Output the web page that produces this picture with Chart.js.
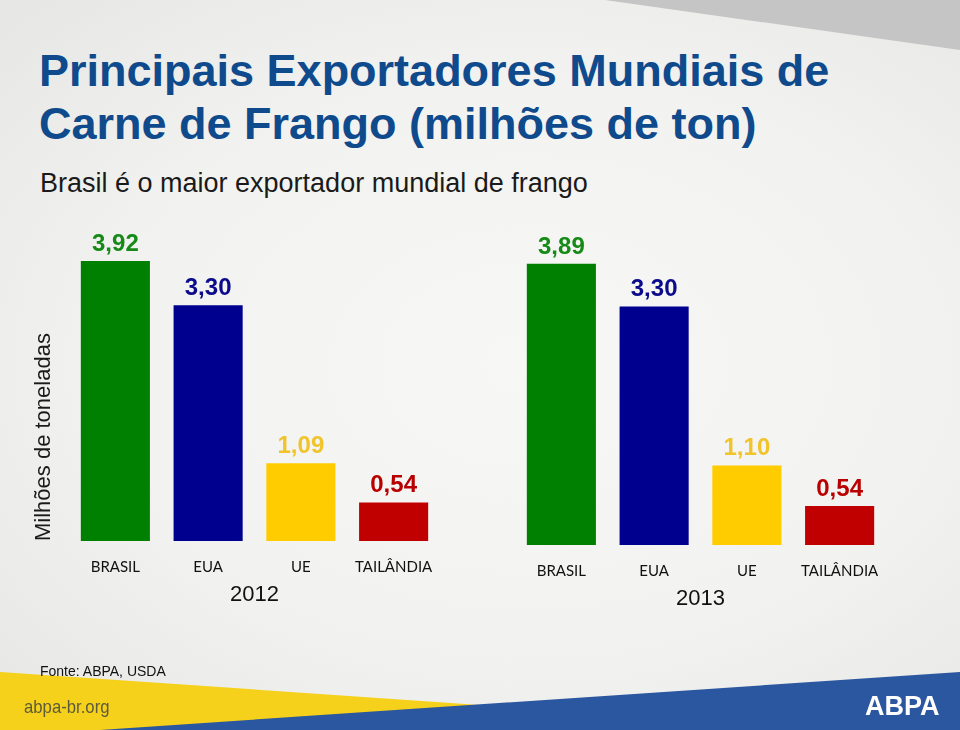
<!DOCTYPE html>
<html>
<head>
<meta charset="utf-8">
<script src="https://cdn.jsdelivr.net/npm/chart.js@4/dist/chart.umd.min.js"></script>
<style>
  html, body { margin:0; padding:0; }
  body { width:960px; height:730px; position:relative; overflow:hidden;
    background: radial-gradient(ellipse at 55% 50%, #f7f7f5 0%, #f2f2f0 55%, #e6e6e4 100%);
    font-family: "Liberation Sans", Arial, sans-serif; }
  .abs { position:absolute; white-space:nowrap; line-height:1.15; }
  #t1, #t2 { left:39px; font-weight:bold; font-size:45px; color:#0f4a8c; }
  #t1 { top:45px; }
  #t2 { top:98px; }
  #sub { left:40px; top:168px; font-size:27px; color:#1a1a1a; }
  #fonte { left:40px; top:663px; font-size:14px; color:#111; }
  #site { left:24px; top:696px; font-size:19px; color:#5e5b3a; transform:scaleX(0.88); transform-origin:left top; }
  #logo { left:865px; top:691px; font-weight:bold; font-size:27px; color:#ffffff; }
  canvas { position:absolute; left:0; top:0; }
  svg { position:absolute; left:0; top:0; }
</style>
</head>
<body>
<svg width="960" height="730">
  <polygon points="605,0 960,0 960,50" fill="#c5c5c5"/>
  <polygon points="0,672 480,705 480,730 0,730" fill="#f5d11b"/>
  <polygon points="960,672 960,730 100,730" fill="#2a57a0"/>
</svg>
<div class="abs" id="t1">Principais Exportadores Mundiais de</div>
<div class="abs" id="t2">Carne de Frango (milhões de ton)</div>
<div class="abs" id="sub">Brasil é o maior exportador mundial de frango</div>
<canvas id="c1" width="960" height="730"></canvas>
<canvas id="c2" width="960" height="730"></canvas>
<div class="abs" id="fonte">Fonte: ABPA, USDA</div>
<div class="abs" id="site">abpa-br.org</div>
<div class="abs" id="logo">ABPA</div>
<script>
const categories = ['BRASIL', 'EUA', 'UE', 'TAILÂNDIA'];
const years = ['2012', '2013'];
const values2012 = [3.92, 3.30, 1.09, 0.54];
const values2013 = [3.89, 3.30, 1.10, 0.54];
const barColors = ['#008000', '#00008f', '#ffcc00', '#c00000'];
const labelColors = ['#168a16', '#0b0b8c', '#f0c42a', '#b80000'];
const axisTitle = 'Milhões de toneladas';

const valueLabels = {
  id: 'valueLabels',
  afterDatasetsDraw(chart) {
    const ctx = chart.ctx;
    const meta = chart.getDatasetMeta(0);
    const data = chart.data.datasets[0].data;
    ctx.save();
    ctx.font = 'bold 24px "Liberation Sans", Arial, sans-serif';
    ctx.textAlign = 'center';
    ctx.textBaseline = 'alphabetic';
    meta.data.forEach((bar, i) => {
      ctx.fillStyle = labelColors[i];
      ctx.fillText(data[i].toFixed(2).replace('.', ','), bar.x, bar.y - 10);
    });
    ctx.restore();
  }
};

function makeChart(id, year, values, opts) {
  return new Chart(document.getElementById(id), {
    type: 'bar',
    data: {
      labels: categories,
      datasets: [{ data: values, backgroundColor: barColors, borderWidth: 0,
        categoryPercentage: 1, barPercentage: 0.745 }]
    },
    plugins: [valueLabels],
    options: {
      responsive: false,
      animation: false,
      devicePixelRatio: 1,
      layout: { padding: opts.padding },
      plugins: { legend: { display: false }, tooltip: { enabled: false } },
      scales: {
        x: {
          grid: { display: false, drawTicks: false },
          border: { display: false },
          ticks: { color: '#111', padding: 17, autoSkip: false, maxRotation: 0, minRotation: 0,
            font: { family: 'Lato', size: 15 } },
          title: { display: true, text: year, color: '#111', padding: { top: 0, bottom: 3 },
            font: { family: '"Liberation Sans", Arial', size: 22 } },
          afterFit(scale) { scale.height = 70; }
        },
        y: {
          display: opts.showY,
          min: 0, max: opts.max,
          grid: { display: false, drawTicks: false },
          border: { display: false },
          ticks: { display: false },
          title: { display: true, text: axisTitle, align: 'start', color: '#1a1a1a',
            padding: { top: 0, bottom: 0 },
            font: { family: '"Liberation Sans", Arial', size: 22 } },
          afterFit(scale) { scale.width = opts.showY ? 38 : 0; }
        }
      }
    }
  });
}

makeChart('c1', years[0], values2012, { showY: true, max: 4.2,
  padding: { left: 31, right: 520, top: 241, bottom: 119 } });
makeChart('c2', years[1], values2013, { showY: false, max: 4.15,
  padding: { left: 515, right: 74, top: 245, bottom: 115 } });
</script>
</body>
</html>
